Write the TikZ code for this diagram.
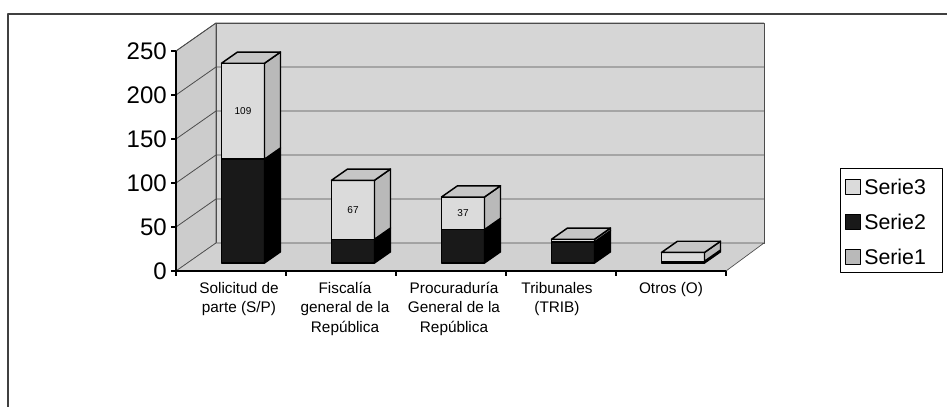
\documentclass[tikz,border=0pt]{standalone}
\usepackage{fontspec}
\setmainfont{Liberation Sans}
\tikzset{barface/.style={draw=black,line width=1.1pt,line join=round}}
% one stacked slab: x of front centre, from, to, front colour, side colour
\newcommand{\slab}[5]{%
  \filldraw[barface,fill=#4] ({#1-21.5},{144+.88*#2}) rectangle ({#1+21.5},{144+.88*#3});
  \filldraw[barface,fill=#5] ({#1+21.5},{144+.88*#2}) -- ++(16,11.2) -- ++(0,{.88*(#3-#2)}) -- ++(-16,-11.2) -- cycle;}
% top of a bar: x of front centre, level, colour
\newcommand{\lid}[3]{%
  \filldraw[barface,fill=#3] ({#1-21.5},{144+.88*#2}) -- ++(16,11.2) -- ++(43,0) -- ++(-16,-11.2) -- cycle;}
\begin{document}
\begin{tikzpicture}[x=.75pt,y=.75pt,line join=round,font=\fontsize{11.5}{14.5}\selectfont,
  wall/.style={draw=gray!60!black,line width=.5pt},
  gridline/.style={draw=black!70,line width=.6pt},
  ylab/.style={anchor=east,inner sep=0,font=\fontsize{18}{20}\selectfont},
  cat/.style={anchor=north,align=center,inner sep=0},
  val/.style={inner sep=0,font=\fontsize{7.5}{9}\selectfont},
  leg/.style={anchor=west,inner sep=0,font=\fontsize{16}{18}\selectfont}]
\useasboundingbox (0,0) rectangle (947,407);
\draw[line width=.8pt,black!75] (8,0) -- (8,393) -- (947,393);
% walls and floor
\filldraw[wall,fill=gray!40] (176,136) -- (216,164) -- (216,384) -- (176,356) -- cycle;
\filldraw[wall,fill=gray!32] (216,164) rectangle (764,384);
\filldraw[wall,fill=gray!36] (176,136) -- (726,136) -- (764,164) -- (216,164) -- cycle;
\foreach \v in {50,100,...,250}
  \draw[gridline] (176,{136+.88*\v}) -- ++(40,28) -- (764,{164+.88*\v});
% axes
\draw[line width=.8pt] (176,356) -- (176,136) -- (726,136);
\foreach \v in {0,50,...,250}{
  \draw[line width=.8pt] (171,{136+.88*\v}) -- (176,{136+.88*\v});
  \node[ylab] (y\v) at (167,{136+.88*\v}) {\v};}
\foreach \i in {0,...,5}
  \draw[line width=.8pt] ({176+110*\i},136) -- ++(0,-5);
% bars
\slab{243}{0}{118}{black!90}{black}
\slab{243}{118}{227}{gray!28}{gray!55}
\lid{243}{227}{gray!45}
\slab{353}{0}{27}{black!90}{black}
\slab{353}{27}{94}{gray!28}{gray!55}
\lid{353}{94}{gray!45}
\slab{463}{0}{38}{black!90}{black}
\slab{463}{38}{75}{gray!28}{gray!55}
\lid{463}{75}{gray!45}
\slab{573}{0}{24}{black!90}{black}
\slab{573}{24}{27}{gray!28}{gray!55}
\lid{573}{27}{gray!45}
\slab{683}{0}{2}{black!90}{black}
\slab{683}{2}{12}{gray!28}{gray!55}
\lid{683}{12}{gray!45}
\node[val] (v1) at (243,{144+.88*172.5}) {109};
\node[val] (v2) at (353,{144+.88*60.5}) {67};
\node[val] (v3) at (463,{144+.88*56.5}) {37};
% categories
\node[cat] (c1) at (239,125) {Solicitud de\\parte (S/P)};
\node[cat] (c2) at (345,125) {Fiscalía\\general de la\\República};
\node[cat] (c3) at (454,125) {Procuraduría\\General de la\\República};
\node[cat] (c4) at (557,125) {Tribunales\\(TRIB)};
\node[cat] (c5) at (671,125) {Otros (O)};
% legend
\draw[line width=.6pt] (840,135) rectangle (942,239);
\foreach \s/\c/\yy in {3/gray!28/220,2/black!90/185,1/gray!55/150}{
  \filldraw[draw=black,fill=\c] (845,{\yy-7.5}) rectangle ++(15,15);
  \node[leg] (l\s) at (864,\yy) {Serie\s};}
\end{tikzpicture}
\end{document}
